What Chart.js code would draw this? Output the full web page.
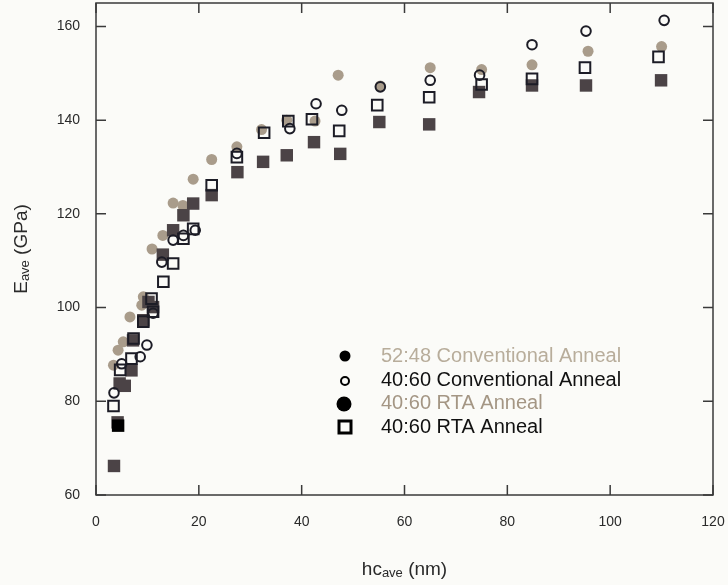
<!DOCTYPE html>
<html>
<head>
<meta charset="utf-8">
<script src="https://cdn.jsdelivr.net/npm/chart.js@4"></script>
<style>
  html, body { margin:0; padding:0; background:#fbfbf8; }
  #wrap { width:728px; height:585px; }
</style>
</head>
<body>
<div id="wrap"><canvas id="chartModulus" width="728" height="585"></canvas></div>
<script>
// ── DATA ──────────────────────────────────────────────
var seriesNames = ['52:48 Conventional Anneal', '40:60 Conventional Anneal', '40:60 RTA Anneal', '40:60 RTA Anneal'];

// 52:48 conventional anneal (grey dots)
var conv5248X = [3.4, 4.3, 5.3, 6.6, 8.9, 9.2, 10.9, 13.0, 15.0, 16.9, 18.9, 22.5, 27.4, 32.2, 37.1, 42.6, 47.1, 55.3, 65.0, 75.0, 84.8, 95.7, 110.0];
var conv5248Y = [87.7, 90.9, 92.7, 98.0, 100.5, 102.3, 112.5, 115.4, 122.3, 121.8, 127.4, 131.6, 134.3, 138.0, 140.0, 139.8, 149.6, 147.3, 151.2, 150.8, 151.8, 154.7, 155.7];

// 40:60 conventional anneal (open circles)
var conv4060X = [3.5, 5.0, 8.6, 9.9, 11.1, 12.8, 15.0, 17.0, 19.3, 27.4, 37.7, 42.8, 47.8, 55.3, 65.0, 74.6, 84.8, 95.3, 110.5];
var conv4060Y = [81.8, 88.0, 89.5, 92.0, 98.8, 109.7, 114.4, 115.4, 116.5, 132.9, 138.2, 143.5, 142.1, 147.1, 148.5, 149.6, 156.1, 159.0, 161.3];

// 40:60 RTA anneal (filled squares)
var rtaFillX = [3.5, 4.2, 4.3, 4.6, 5.6, 6.9, 7.2, 9.2, 10.2, 11.1, 13.0, 15.0, 17.0, 18.9, 22.5, 27.5, 32.5, 37.1, 42.4, 47.5, 55.1, 64.8, 74.5, 84.8, 95.3, 109.9];
var rtaFillY = [66.2, 75.5, 74.8, 83.8, 83.3, 86.6, 93.0, 97.3, 101.2, 100.1, 111.3, 116.5, 119.7, 122.2, 124.0, 128.9, 131.1, 132.5, 135.3, 132.8, 139.6, 139.1, 146.0, 147.4, 147.4, 148.5];

// 40:60 RTA anneal (open squares)
var rtaOpenX = [3.4, 4.7, 6.9, 7.3, 9.2, 10.8, 11.1, 13.1, 15.0, 17.0, 18.9, 22.5, 27.4, 32.7, 37.4, 42.0, 47.3, 54.7, 64.8, 75.0, 84.8, 95.1, 109.4];
var rtaOpenY = [79.0, 86.7, 89.1, 93.4, 97.0, 101.9, 99.1, 105.5, 109.4, 114.7, 116.8, 126.1, 132.1, 137.3, 139.8, 140.2, 137.7, 143.2, 144.9, 147.6, 148.8, 151.2, 153.5];

var xTicks = [0, 20, 40, 60, 80, 100, 120];
var yTicks = [60, 80, 100, 120, 140, 160];

// ── HELPERS ───────────────────────────────────────────
var INK = '#1c1c26';
var GREY = '#a99c8b';
var DARK = '#4b4346';
var FONT = '"Liberation Sans", Arial, Helvetica, sans-serif';

function zip(xs, ys){
  return xs.map(function(x, i){ return { x:x, y:ys[i] }; });
}

// the one jet-black square near x=4 in the scan
var rtaFillColors = rtaFillX.map(function(x, i){ return i === 2 ? '#000000' : DARK; });

// ── PLUGINS ───────────────────────────────────────────
// box frame with inward ticks on all four sides
var framePlugin = {
  id:'frame',
  afterDatasetsDraw:function(chart){
    var ctx = chart.ctx, a = chart.chartArea;
    var xs = chart.scales.x, ys = chart.scales.y;
    var len = 10;
    ctx.save();
    ctx.strokeStyle = '#3a3a3a';
    ctx.lineWidth = 1.5;
    ctx.strokeRect(a.left, a.top, a.right - a.left, a.bottom - a.top);
    ctx.beginPath();
    xTicks.forEach(function(v){
      var px = xs.getPixelForValue(v);
      ctx.moveTo(px, a.bottom); ctx.lineTo(px, a.bottom - len);
      ctx.moveTo(px, a.top);    ctx.lineTo(px, a.top + len);
    });
    yTicks.forEach(function(v){
      var py = ys.getPixelForValue(v);
      ctx.moveTo(a.left, py);  ctx.lineTo(a.left + len, py);
      ctx.moveTo(a.right, py); ctx.lineTo(a.right - len, py);
    });
    ctx.stroke();
    ctx.restore();
  }
};

// axis titles with subscripts
function drawSubText(ctx, parts, x, y){
  // parts: [text, size, dy]
  var total = 0;
  parts.forEach(function(p){ ctx.font = p[1] + 'px ' + FONT; total += ctx.measureText(p[0]).width; });
  var cx = x - total / 2;
  parts.forEach(function(p){
    ctx.font = p[1] + 'px ' + FONT;
    ctx.fillText(p[0], cx, y + p[2]);
    cx += ctx.measureText(p[0]).width;
  });
}

var titlePlugin = {
  id:'titles',
  afterDraw:function(chart){
    var ctx = chart.ctx, a = chart.chartArea;
    ctx.save();
    ctx.fillStyle = '#2a2a2a';
    ctx.textBaseline = 'middle';
    ctx.textAlign = 'left';
    drawSubText(ctx, [['hc', 19, 0], ['ave', 13, 3], [' (nm)', 19, 0]], (a.left + a.right) / 2, 570);
    ctx.translate(22, (a.top + a.bottom) / 2);
    ctx.rotate(-Math.PI / 2);
    drawSubText(ctx, [['E', 19, 0], ['ave', 13, 3], [' (GPa)', 19, 0]], 0, 0);
    ctx.restore();
  }
};

// legend sitting inside the plot
var legendPlugin = {
  id:'insideLegend',
  afterDraw:function(chart){
    var ctx = chart.ctx;
    var rows = [
      { y:356, color:'#b8ad9b', mark:function(){ ctx.beginPath(); ctx.arc(345, 356, 5.5, 0, Math.PI*2); ctx.fillStyle = '#000'; ctx.fill(); } },
      { y:380, color:'#111111', mark:function(){ ctx.beginPath(); ctx.arc(345, 381, 4, 0, Math.PI*2); ctx.lineWidth = 2; ctx.strokeStyle = '#000'; ctx.stroke(); } },
      { y:403, color:'#a49684', mark:function(){ ctx.beginPath(); ctx.arc(344, 404, 7.5, 0, Math.PI*2); ctx.fillStyle = '#000'; ctx.fill(); } },
      { y:427, color:'#111111', mark:function(){ ctx.lineWidth = 3; ctx.strokeStyle = '#000'; ctx.strokeRect(339, 421, 12, 12); } }
    ];
    ctx.save();
    ctx.textBaseline = 'middle';
    ctx.textAlign = 'left';
    ctx.font = '20px ' + FONT;
    rows.forEach(function(r, i){
      r.mark();
      ctx.fillStyle = r.color;
      ctx.fillText(seriesNames[i], 381, r.y);
    });
    ctx.restore();
  }
};

// pin the plot box: kill the label overflow padding the scales ask for
function fixX(s){ s.height = 90; s.paddingLeft = 0; s.paddingRight = 0; }
function fixY(s){ s.width = 96; s.paddingTop = 0; s.paddingBottom = 0; }

// ── CHART ─────────────────────────────────────────────
new Chart(document.getElementById('chartModulus'), {
  type:'scatter',
  data:{
    datasets:[
      { label:seriesNames[1], data:zip(conv4060X, conv4060Y), order:1,
        pointStyle:'circle', pointRadius:4.8, borderWidth:2, borderColor:INK, backgroundColor:'rgba(0,0,0,0)' },
      { label:seriesNames[3], data:zip(rtaOpenX, rtaOpenY), order:2,
        pointStyle:'rect', pointRadius:7.5, borderWidth:2, borderColor:INK, backgroundColor:'rgba(0,0,0,0)' },
      { label:seriesNames[2], data:zip(rtaFillX, rtaFillY), order:3,
        pointStyle:'rect', pointRadius:8.8, borderWidth:0, borderColor:rtaFillColors, backgroundColor:rtaFillColors },
      { label:seriesNames[0], data:zip(conv5248X, conv5248Y), order:4,
        pointStyle:'circle', pointRadius:5.5, borderWidth:0, backgroundColor:GREY }
    ]
  },
  options:{
    responsive:false,
    animation:false,
    events:[],
    layout:{ autoPadding:false, padding:{ top:3, right:15, left:0, bottom:0 } },
    plugins:{ legend:{ display:false }, tooltip:{ enabled:false } },
    scales:{
      x:{
        type:'linear', min:0, max:120,
        grid:{ display:false, drawTicks:false }, border:{ display:false },
        ticks:{ stepSize:20, includeBounds:false, padding:19, color:'#2a2a2a', font:{ family:FONT, size:14 } },
        afterFit:fixX
      },
      y:{
        type:'linear', min:60, max:165,
        grid:{ display:false, drawTicks:false }, border:{ display:false },
        ticks:{ stepSize:20, includeBounds:false, padding:16, color:'#2a2a2a', font:{ family:FONT, size:14 } },
        afterFit:fixY
      }
    }
  },
  plugins:[framePlugin, titlePlugin, legendPlugin]
});
</script>
</body>
</html>
